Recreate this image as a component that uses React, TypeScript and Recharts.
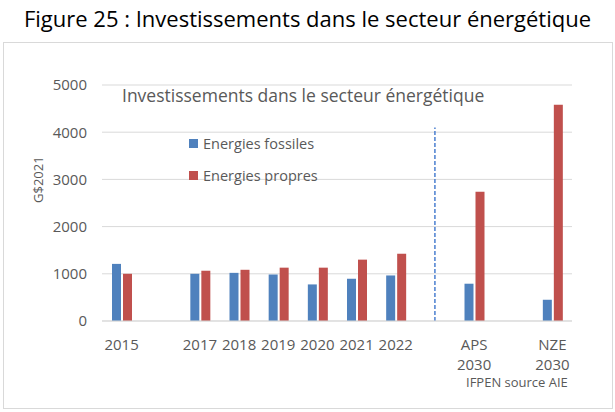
import { BarChart, Bar, XAxis, YAxis, CartesianGrid, ReferenceLine } from 'recharts';

// Categories: blank slots keep the gaps between the historic years and the 2030 scenarios
const CATEGORIES = ['2015', 'g1', '2017', '2018', '2019', '2020', '2021', '2022', 'g2', 'APS\n2030', 'g3', 'NZE\n2030'];
const FOSSILES = [1210, null, 1000, 1020, 985, 775, 895, 965, null, 790, null, 450];
const PROPRES = [1000, null, 1065, 1085, 1130, 1130, 1300, 1425, null, 2740, null, 4580];
const Y_TICKS = [0, 1000, 2000, 3000, 4000, 5000];
const LEGEND = [
  { label: 'Energies fossiles', color: '#4f81bd' },
  { label: 'Energies propres', color: '#c0504d' },
];

const BLUE = '#4f81bd';
const RED = '#c0504d';
const GREY_TEXT = '#595959';
const FONT = '"Open Sans", sans-serif';

const data = CATEGORIES.map((name, i) => ({
  name,
  fossiles: FOSSILES[i],
  propres: PROPRES[i],
}));

function CategoryTick(props: any) {
  const { x, y, payload } = props;
  const label: string = payload.value;
  if (label.startsWith('g')) return null;
  const lines = label.split('\n');
  return (
    <text x={x} y={y} textAnchor="middle" fill={GREY_TEXT} fontSize={15} fontFamily={FONT}>
      {lines.map((l, i) => (
        <tspan key={i} x={x} dy={i === 0 ? 21 : 20}>
          {l}
        </tspan>
      ))}
    </text>
  );
}

export default function App() {
  return (
    <div style={{ position: 'absolute', left: 0, top: 0, width: 615, height: 412, background: '#fff' }}>
      <div
        style={{
          position: 'absolute',
          left: 0,
          top: 3,
          width: 615,
          textAlign: 'center',
          fontFamily: FONT,
          fontSize: 22,
          color: '#000',
          whiteSpace: 'nowrap',
        }}
      >
        Figure 25 : Investissements dans le secteur énergétique
      </div>
      <div
        style={{
          position: 'absolute',
          left: 3,
          top: 42,
          width: 608,
          height: 365,
          border: '1px solid #d9d9d9',
        }}
      />
      <div style={{ position: 'absolute', left: 0, top: 0 }}>
        <BarChart
          width={615}
          height={412}
          data={data}
          margin={{ top: 85, right: 43, bottom: 51, left: 42 }}
          barSize={9}
          barGap={2}
        >
          <CartesianGrid vertical={false} stroke="#d9d9d9" />
          <XAxis
            dataKey="name"
            interval={0}
            tickLine={false}
            axisLine={{ stroke: '#d9d9d9' }}
            tick={<CategoryTick />}
            height={40}
          />
          <YAxis
            width={60}
            domain={[0, 5000]}
            ticks={Y_TICKS}
            axisLine={false}
            tickLine={false}
            tick={{ fill: GREY_TEXT, fontSize: 15, fontFamily: FONT, dx: -7 }}
            label={{
              value: 'G$2021',
              angle: -90,
              position: 'insideLeft',
              offset: -4,
              fill: GREY_TEXT,
              fontSize: 13,
              fontFamily: FONT,
            }}
          />
          <ReferenceLine
            segment={[
              { x: 'g2', y: 0 },
              { x: 'g2', y: 4100 },
            ]}
            stroke="#4a7fd0"
            strokeWidth={1.5}
            strokeDasharray="4 2"
          />
          <Bar dataKey="fossiles" fill={BLUE} isAnimationActive={false} />
          <Bar dataKey="propres" fill={RED} isAnimationActive={false} />
        </BarChart>
      </div>
      <div
        style={{
          position: 'absolute',
          left: 122,
          top: 83,
          fontFamily: FONT,
          fontSize: 17.5,
          color: GREY_TEXT,
          whiteSpace: 'nowrap',
        }}
      >
        Investissements dans le secteur énergétique
      </div>
      <div style={{ position: 'absolute', left: 189, top: 127, fontFamily: FONT, fontSize: 14.5, color: GREY_TEXT }}>
        {LEGEND.map((it) => (
          <div key={it.label} style={{ display: 'flex', alignItems: 'center', height: 32 }}>
            <span style={{ width: 9, height: 9, background: it.color, marginRight: 5, display: 'inline-block' }} />
            {it.label}
          </div>
        ))}
      </div>
      <div
        style={{
          position: 'absolute',
          left: 466,
          top: 374,
          fontFamily: FONT,
          fontSize: 13,
          lineHeight: '16px',
          color: GREY_TEXT,
          whiteSpace: 'nowrap',
        }}
      >
        IFPEN source AIE
      </div>
    </div>
  );
}
